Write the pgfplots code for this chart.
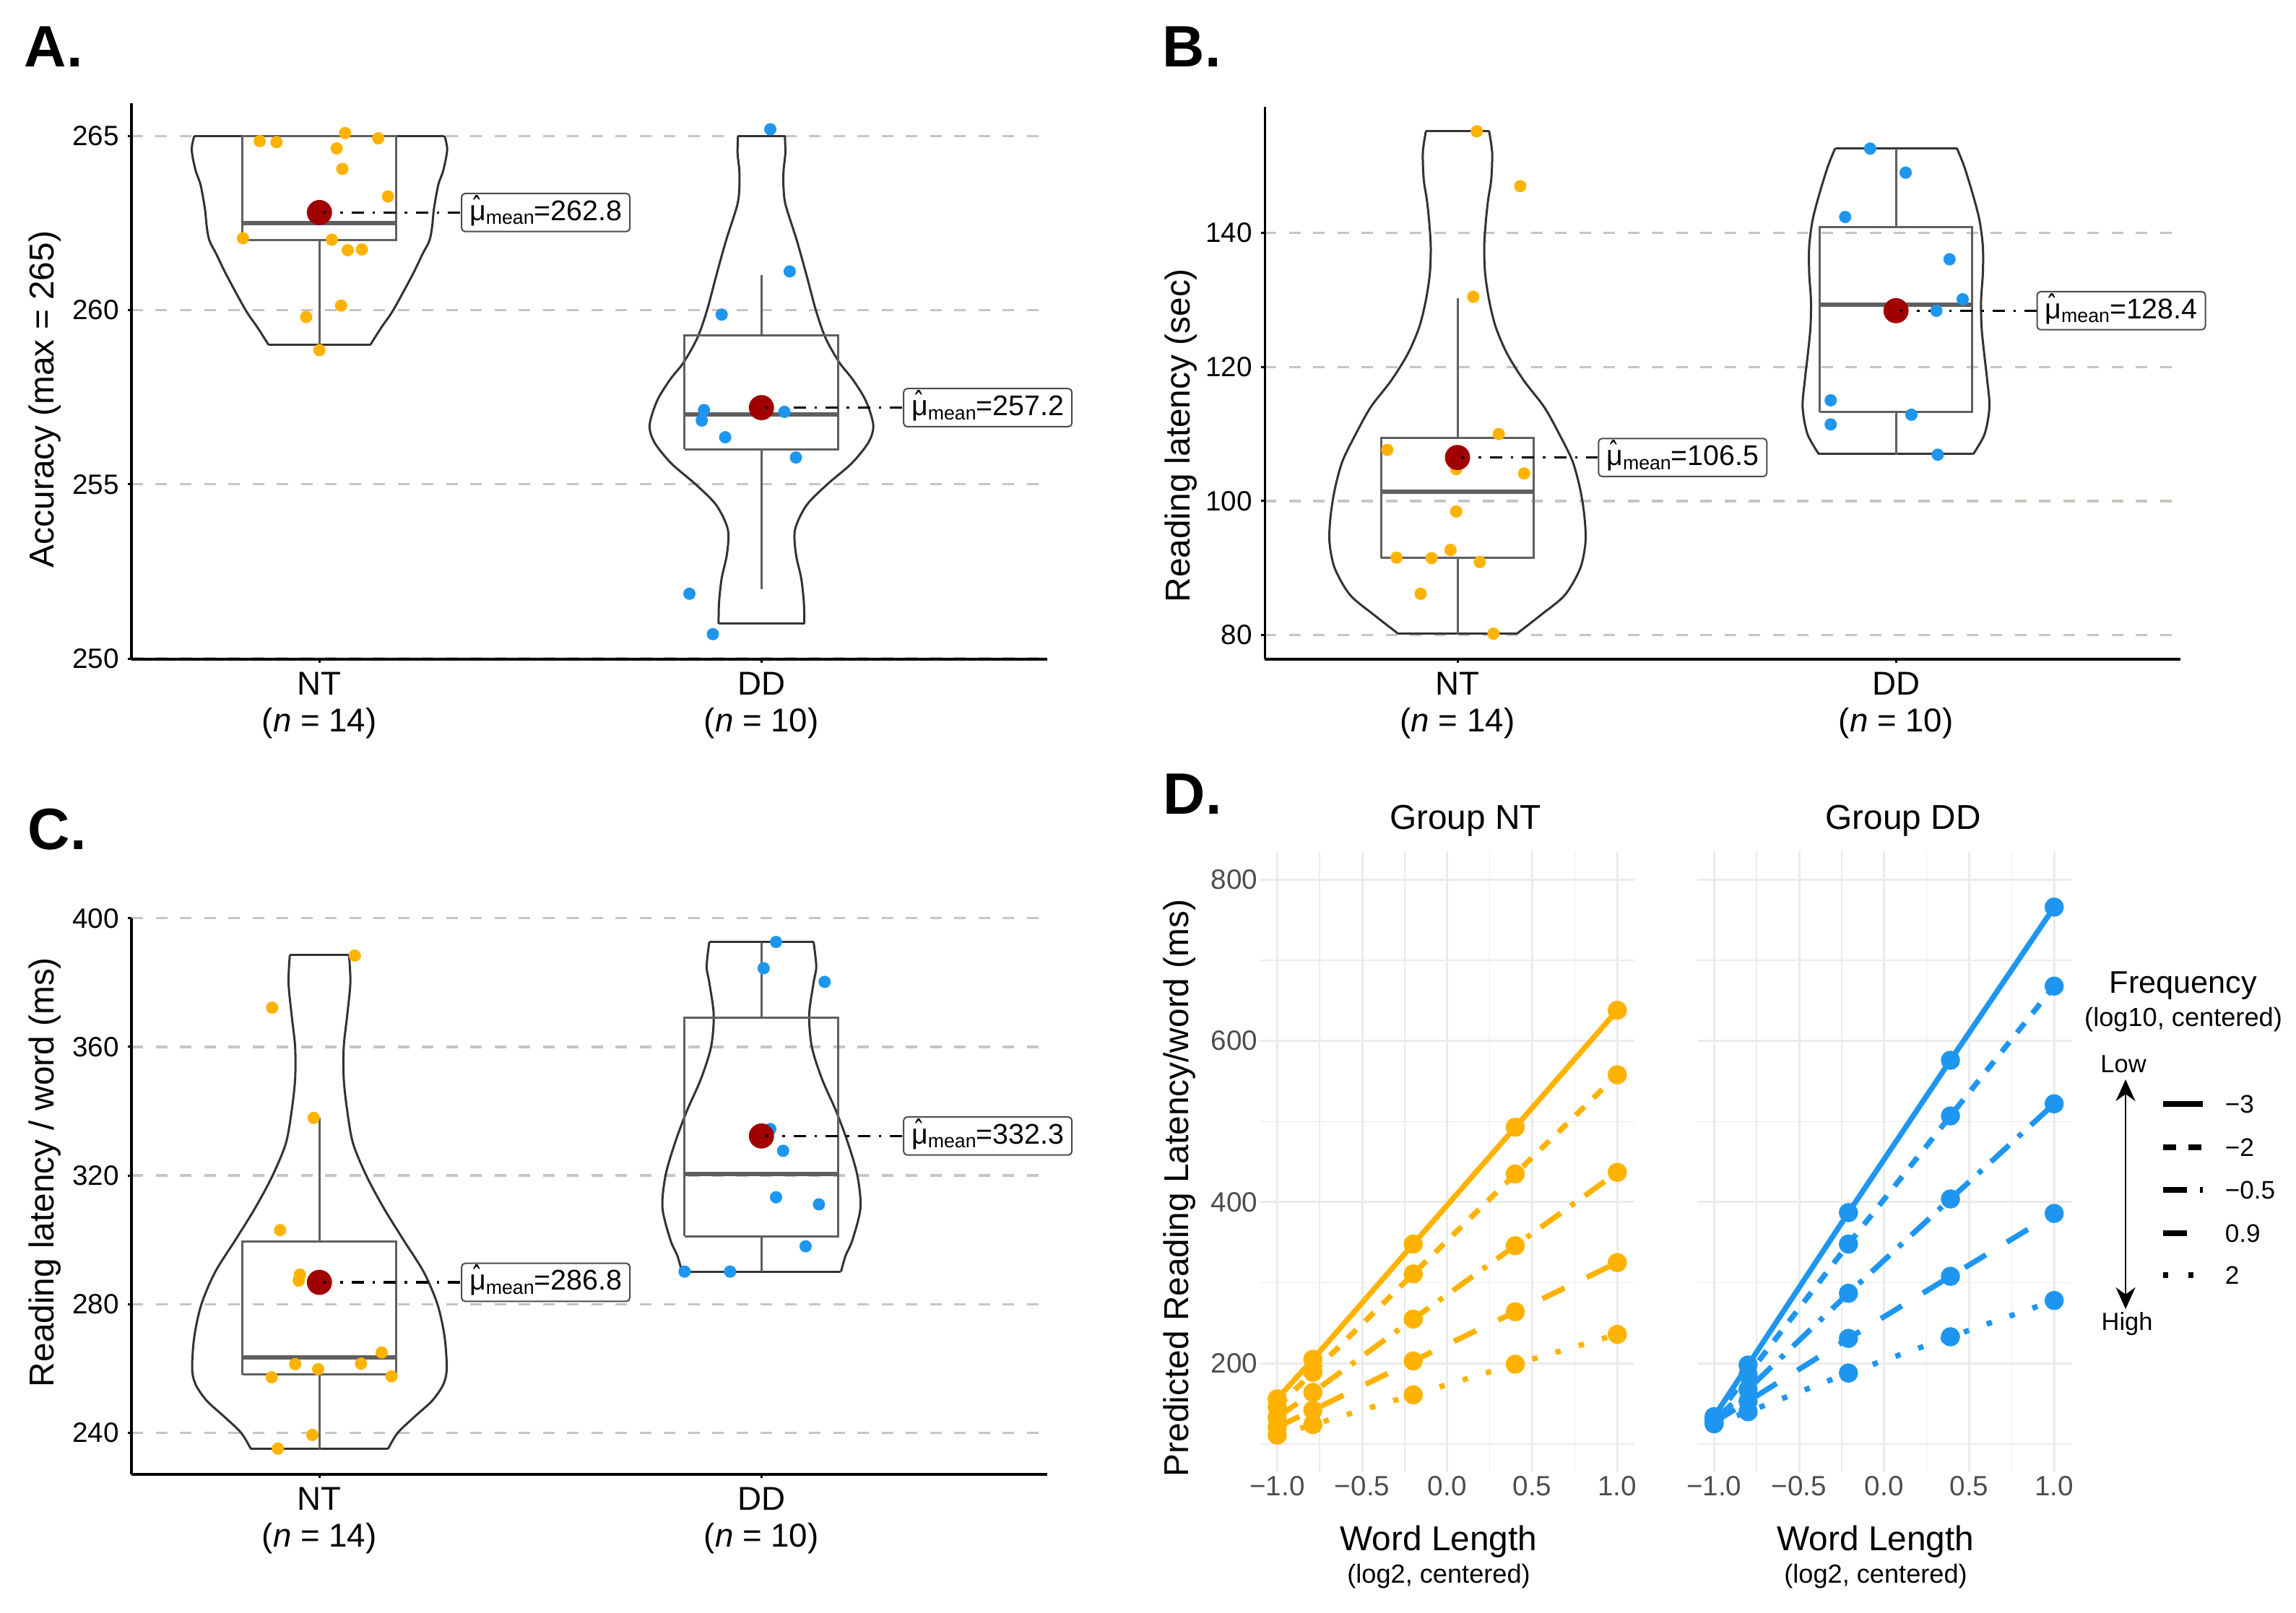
\documentclass[border=0pt]{standalone}
\usepackage{fontspec}
\setmainfont{Liberation Sans}
\usepackage{graphicx}
\usepackage{pgfplots}
\pgfplotsset{compat=1.18}
\usepackage{pgfplotstable}
\usetikzlibrary{arrows.meta}

\definecolor{ntorange}{HTML}{FFB300}
\definecolor{ddblue}{HTML}{1E96F0}
\definecolor{meanred}{HTML}{A00000}
\definecolor{hgrid}{HTML}{C9C4BE}
\definecolor{boxgray}{HTML}{5F5F5F}
\definecolor{violgray}{HTML}{333333}
\definecolor{dgrid}{HTML}{EBEBEB}
\definecolor{dtick}{HTML}{4D4D4D}

% violin outlines: y, left x, right x
\pgfplotstableread{
y xl xr
259.0 0.885 1.115
259.5 0.860 1.140
260.0 0.833 1.167
261.0 0.790 1.210
261.6 0.767 1.233
262.0 0.751 1.249
262.4 0.745 1.255
262.9 0.741 1.259
263.6 0.731 1.269
264.0 0.720 1.280
264.6 0.711 1.289
265.0 0.717 1.283
}\vAnt
\pgfplotstableread{
y xl xr
251.0 1.903 2.097
251.6 1.904 2.096
252.3 1.910 2.090
253.0 1.922 2.078
253.7 1.924 2.076
254.4 1.898 2.102
255.0 1.851 2.149
255.6 1.796 2.204
256.2 1.758 2.242
256.7 1.747 2.253
257.4 1.764 2.236
258.0 1.793 2.207
258.5 1.824 2.176
259.2 1.855 2.145
260.0 1.877 2.123
261.0 1.898 2.102
262.0 1.920 2.080
263.0 1.945 2.055
263.5 1.950 2.050
264.0 1.950 2.050
264.5 1.946 2.054
265.0 1.947 2.053
}\vAdd
\pgfplotstableread{
y xl xr
80.2 0.865 1.135
83 0.810 1.190
86 0.755 1.245
90 0.720 1.280
94 0.708 1.292
98 0.711 1.289
102 0.721 1.279
106 0.738 1.262
110 0.768 1.232
114 0.802 1.198
118 0.849 1.151
122 0.887 1.113
126 0.913 1.087
130 0.928 1.072
134 0.937 1.063
138 0.939 1.061
142 0.935 1.065
145 0.930 1.070
148 0.923 1.077
152 0.921 1.079
155.2 0.928 1.072
}\vBnt
\pgfplotstableread{
y xl xr
107 1.824 2.176
110 1.798 2.202
114 1.787 2.213
118 1.792 2.208
122 1.799 2.201
126 1.805 2.195
130 1.806 2.194
134 1.802 2.198
138 1.802 2.198
142 1.810 2.190
146 1.826 2.174
150 1.845 2.155
152.6 1.861 2.139
}\vBdd
\pgfplotstableread{
y xl xr
235 0.845 1.155
240 0.823 1.177
245 0.785 1.215
250 0.745 1.255
255 0.720 1.280
260 0.712 1.288
270 0.717 1.283
280 0.733 1.267
290 0.764 1.236
300 0.810 1.190
310 0.855 1.145
320 0.894 1.106
330 0.924 1.076
340 0.937 1.063
350 0.945 1.055
360 0.945 1.055
370 0.937 1.063
380 0.930 1.070
388.5 0.933 1.067
}\vCnt
\pgfplotstableread{
y xl xr
290.1 1.820 2.180
295 1.810 2.190
300 1.794 2.206
310 1.776 2.224
320 1.783 2.217
330 1.804 2.196
340 1.831 2.169
350 1.863 2.137
360 1.886 2.114
370 1.892 2.108
380 1.882 2.118
385 1.876 2.124
392.6 1.882 2.118
}\vCdd

% mu with a hat, subscript "mean"
\newcommand{\mulab}[1]{\ooalign{μ\cr\hidewidth\raisebox{0.05em}{\scalebox{0.75}[1.15]{ˆ}}\kern0.06em\hidewidth\cr}\raisebox{-0.57mm}{\fontsize{7.6}{8}\selectfont mean}=#1}

\pgfplotsset{
  panel/.style={
    scale only axis, width=126.8mm,
    axis lines*=left,
    axis line style={black, line width=0.33mm},
    tick align=outside, major tick length=0.5mm,
    tick style={black, line width=0.3mm},
    xtick={1,2},
    ymajorgrids,
    major grid style={hgrid, line width=0.33mm, dash pattern=on 1.6mm off 1.75mm},
    yticklabel style={font=\fontsize{11}{13}\selectfont},
    xticklabel style={font=\fontsize{13}{14.6}\selectfont, align=center, inner sep=0pt, yshift=-1.2mm},
    ylabel style={font=\fontsize{13.6}{16}\selectfont, anchor=center},
    /pgf/number format/assume math mode=true,
    clip=false,
  },
  vio/.style={violgray, line width=0.3mm, smooth, no marks},
  flat/.style={violgray, line width=0.3mm, no marks},
  bx/.style={boxgray, line width=0.3mm, no marks},
  med/.style={boxgray, line width=0.6mm, no marks},
  jit/.style={only marks, mark=*, mark size=0.78mm},
  mdot/.style={only marks, mark=*, meanred, mark size=1.67mm},
  cdot/.style={only marks, mark=*, black, mark size=0.15mm},
  conn/.style={black, line width=0.33mm, no marks, dash pattern=on 1.7mm off 1.2mm on 0.35mm off 1.2mm},
  dpanel/.style={
    scale only axis, width=51.8mm, height=85.97mm,
    xmin=-1.1, xmax=1.1, ymin=65, ymax=835,
    axis line style={draw=none},
    major tick length=0pt, minor tick length=0pt,
    xtick={-1,-0.5,0,0.5,1}, xticklabels={−1.0,−0.5,0.0,0.5,1.0},
    minor xtick={-0.75,-0.25,0.25,0.75},
    ytick={200,400,600,800}, minor ytick={100,300,500,700},
    xmajorgrids, ymajorgrids, xminorgrids, yminorgrids,
    major grid style={dgrid, line width=0.3mm},
    minor grid style={dgrid, line width=0.15mm},
    ticklabel style={dtick, font=\fontsize{11}{13}\selectfont},
    xticklabel style={inner ysep=0.5mm},
    yticklabel style={inner xsep=0.3mm},
    ylabel style={font=\fontsize{13.6}{16}\selectfont, anchor=center},
    /pgf/number format/assume math mode=true,
  },
  fq/.style={line width=0.75mm, mark=*, mark size=0.95mm, mark options={solid}},
  f1/.style={fq, solid},
  f2/.style={fq, dash pattern=on 1.7mm off 1.7mm},
  f3/.style={fq, dash pattern=on 3.4mm off 1.7mm on 0.7mm off 1.7mm},
  f4/.style={fq, dash pattern=on 3.4mm off 3.4mm},
  f5/.style={fq, dash pattern=on 0.75mm off 2.6mm},
}
\tikzset{mlab/.style={draw=black!70, line width=0.2mm, rounded corners=0.5mm, fill=white,
  inner xsep=1.1mm, inner ysep=0.8mm, minimum height=5.27mm, anchor=west,
  font=\fontsize{11.2}{13}\selectfont}}

\begin{document}
\begin{tikzpicture}
\useasboundingbox (0,0) rectangle (317.9mm,223.3mm);

% ---------------- A ----------------
\begin{axis}[panel, at={(18.2mm,132.0mm)}, anchor=south west, height=76.97mm,
  xmin=0.5747, xmax=2.6466, ymin=249.98, ymax=265.93,
  ytick={250,255,260,265},
  xticklabels={{NT\\(\textit{n} = 14)},{DD\\(\textit{n} = 10)}},
  ylabel={Accuracy (max = 265)},
  ylabel style={at={(axis description cs:-0.0946,0.4677)}}]
\addplot[vio] table[x=xr,y=y] {\vAnt};
\addplot[vio] table[x=xl,y=y] {\vAnt};
\addplot[flat] coordinates {(0.885,259.0) (1.115,259.0)};
\addplot[flat] coordinates {(0.717,265.0) (1.283,265.0)};
\addplot[vio] table[x=xr,y=y] {\vAdd};
\addplot[vio] table[x=xl,y=y] {\vAdd};
\addplot[flat] coordinates {(1.903,251.0) (2.097,251.0)};
\addplot[flat] coordinates {(1.947,265.0) (2.053,265.0)};
% boxes: quartiles, median, whiskers
\addplot[bx] coordinates {(0.826,262.0) (1.174,262.0) (1.174,265.0) (0.826,265.0) (0.826,262.0)};
\addplot[med] coordinates {(0.826,262.5) (1.174,262.5)};
\addplot[bx] coordinates {(1,259.0) (1,262.0)};
\addplot[bx] coordinates {(1.826,256.0) (2.174,256.0) (2.174,259.27) (1.826,259.27) (1.826,256.0)};
\addplot[med] coordinates {(1.826,257.0) (2.174,257.0)};
\addplot[bx] coordinates {(2,252.0) (2,256.0)};
\addplot[bx] coordinates {(2,259.27) (2,261.0)};
\addplot[jit, ntorange] coordinates {(0.865,264.85) (0.903,264.82) (1.058,265.08) (1.133,264.93)
  (1.039,264.64) (1.052,264.05) (1.155,263.26) (0.827,262.06) (1.028,262.02) (1.064,261.72)
  (1.096,261.74) (1.049,260.13) (0.970,259.80) (1.000,258.85)};
\addplot[jit, ddblue] coordinates {(2.020,265.19) (2.064,261.11) (1.910,259.87) (1.870,257.13)
  (1.865,256.83) (2.052,257.08) (1.918,256.35) (2.078,255.77) (1.837,251.86) (1.890,250.70)};
\addplot[mdot] coordinates {(1,262.8) (2,257.2)};
\addplot[conn] coordinates {(1,262.8) (1.32,262.8)};
\addplot[conn] coordinates {(2,257.2) (2.32,257.2)};
\addplot[cdot] coordinates {(1.012,262.8) (2.012,257.2)};
\node[mlab] at (axis cs:1.32,262.8) {\mulab{262.8}};
\node[mlab] at (axis cs:2.32,257.2) {\mulab{257.2}};
\end{axis}

% ---------------- B ----------------
\begin{axis}[panel, at={(175.12mm,132.0mm)}, anchor=south west, width=126.78mm, height=76.5mm,
  xmin=0.5606, xmax=2.6486, ymin=76.41, ymax=158.81,
  ytick={80,100,120,140},
  xticklabels={{NT\\(\textit{n} = 14)},{DD\\(\textit{n} = 10)}},
  ylabel={Reading latency (sec)},
  ylabel style={at={(axis description cs:-0.0913,0.405)}}]
\addplot[vio] table[x=xr,y=y] {\vBnt};
\addplot[vio] table[x=xl,y=y] {\vBnt};
\addplot[flat] coordinates {(0.865,80.2) (1.135,80.2)};
\addplot[flat] coordinates {(0.928,155.2) (1.072,155.2)};
\addplot[vio] table[x=xr,y=y] {\vBdd};
\addplot[vio] table[x=xl,y=y] {\vBdd};
\addplot[flat] coordinates {(1.824,107) (2.176,107)};
\addplot[flat] coordinates {(1.861,152.6) (2.139,152.6)};
\addplot[bx] coordinates {(0.826,91.5) (1.174,91.5) (1.174,109.4) (0.826,109.4) (0.826,91.5)};
\addplot[med] coordinates {(0.826,101.4) (1.174,101.4)};
\addplot[bx] coordinates {(1,80.1) (1,91.5)};
\addplot[bx] coordinates {(1,109.4) (1,130.3)};
\addplot[bx] coordinates {(1.826,113.3) (2.174,113.3) (2.174,140.9) (1.826,140.9) (1.826,113.3)};
\addplot[med] coordinates {(1.826,129.3) (2.174,129.3)};
\addplot[bx] coordinates {(2,106.9) (2,113.3)};
\addplot[bx] coordinates {(2,140.9) (2,152.6)};
\addplot[jit, ntorange] coordinates {(1.044,155.16) (1.143,146.98) (1.036,130.47) (1.094,110.0)
  (0.840,107.64) (0.997,104.77) (1.152,104.12) (0.997,98.45) (0.984,92.71) (0.861,91.56)
  (0.941,91.49) (1.051,90.91) (0.916,86.17) (1.082,80.22)};
\addplot[jit, ddblue] coordinates {(1.941,152.58) (2.022,148.99) (1.884,142.38) (2.122,136.07)
  (2.152,130.11) (2.092,128.38) (1.851,115.03) (1.851,111.44) (2.035,112.88) (2.095,106.92)};
\addplot[mdot] coordinates {(1,106.5) (2,128.4)};
\addplot[conn] coordinates {(1,106.5) (1.32,106.5)};
\addplot[conn] coordinates {(2,128.4) (2.32,128.4)};
\addplot[cdot] coordinates {(1.012,106.5) (2.012,128.4)};
\node[mlab] at (axis cs:1.32,106.5) {\mulab{106.5}};
\node[mlab] at (axis cs:2.32,128.4) {\mulab{128.4}};
\end{axis}

% ---------------- C ----------------
\begin{axis}[panel, at={(18.2mm,19.1mm)}, anchor=south west, height=77.03mm,
  xmin=0.5747, xmax=2.6466, ymin=227.1, ymax=400,
  ytick={240,280,320,360,400},
  xticklabels={{NT\\(\textit{n} = 14)},{DD\\(\textit{n} = 10)}},
  ylabel={Reading latency / word (ms)},
  ylabel style={at={(axis description cs:-0.0943,0.5433)}}]
\addplot[vio] table[x=xr,y=y] {\vCnt};
\addplot[vio] table[x=xl,y=y] {\vCnt};
\addplot[flat] coordinates {(0.845,235) (1.155,235)};
\addplot[flat] coordinates {(0.933,388.5) (1.067,388.5)};
\addplot[vio] table[x=xr,y=y] {\vCdd};
\addplot[vio] table[x=xl,y=y] {\vCdd};
\addplot[flat] coordinates {(1.820,290.1) (2.180,290.1)};
\addplot[flat] coordinates {(1.882,392.6) (2.118,392.6)};
\addplot[bx] coordinates {(0.826,258.1) (1.174,258.1) (1.174,299.6) (0.826,299.6) (0.826,258.1)};
\addplot[med] coordinates {(0.826,263.4) (1.174,263.4)};
\addplot[bx] coordinates {(1,235.0) (1,258.1)};
\addplot[bx] coordinates {(1,299.6) (1,337.9)};
\addplot[bx] coordinates {(1.826,301.1) (2.174,301.1) (2.174,369.0) (1.826,369.0) (1.826,301.1)};
\addplot[med] coordinates {(1.826,320.5) (2.174,320.5)};
\addplot[bx] coordinates {(2,290.1) (2,301.1)};
\addplot[bx] coordinates {(2,369.0) (2,392.5)};
\addplot[jit, ntorange] coordinates {(1.080,388.37) (0.893,372.18) (0.987,337.92) (0.911,303.03)
  (0.956,289.2) (0.953,287.3) (1.141,264.99) (0.945,261.37) (1.094,261.53) (0.997,259.80)
  (0.892,257.29) (1.163,257.6) (0.984,239.37) (0.906,235.13)};
\addplot[jit, ddblue] coordinates {(2.033,392.61) (2.005,384.44) (2.143,380.2) (2.020,334.46)
  (2.049,327.7) (2.033,313.24) (2.130,311.04) (2.100,298.0) (1.826,290.14) (1.929,290.14)};
\addplot[mdot] coordinates {(1,286.8) (2,332.3)};
\addplot[conn] coordinates {(1,286.8) (1.32,286.8)};
\addplot[conn] coordinates {(2,332.3) (2.32,332.3)};
\addplot[cdot] coordinates {(1.012,286.8) (2.012,332.3)};
\node[mlab] at (axis cs:1.32,286.8) {\mulab{286.8}};
\node[mlab] at (axis cs:2.32,332.3) {\mulab{332.3}};
\end{axis}

% ---------------- D, group NT ----------------
\begin{axis}[dpanel, at={(174.48mm,19.4mm)}, anchor=south west,
  ylabel={Predicted Reading Latency/word (ms)},
  ylabel style={at={(axis description cs:-0.216,0.458)}}]
\addplot[f1, ntorange] coordinates {(-1,156) (-0.79,205) (-0.2,348) (0.4,493) (1,638)};
\addplot[f2, ntorange] coordinates {(-1,146) (-0.79,189) (-0.2,311) (0.4,435) (1,558)};
\addplot[f3, ntorange] coordinates {(-1,133) (-0.79,164) (-0.2,255) (0.4,346) (1,437)};
\addplot[f4, ntorange] coordinates {(-1,121) (-0.79,142) (-0.2,203) (0.4,264) (1,325)};
\addplot[f5, ntorange] coordinates {(-1,111) (-0.79,124) (-0.2,161) (0.4,199) (1,236)};
\end{axis}

% ---------------- D, group DD ----------------
\begin{axis}[dpanel, at={(234.97mm,19.4mm)}, anchor=south west, yticklabels={}]
\addplot[f1, ddblue] coordinates {(-1,134) (-0.8,198) (-0.21,387) (0.39,576) (1,766)};
\addplot[f2, ddblue] coordinates {(-1,131) (-0.8,186) (-0.21,348) (0.39,507) (1,668)};
\addplot[f3, ddblue] coordinates {(-1,129) (-0.8,168) (-0.21,287) (0.39,404) (1,522)};
\addplot[f4, ddblue] coordinates {(-1,127) (-0.8,153) (-0.21,231) (0.39,308) (1,386)};
\addplot[f5, ddblue] coordinates {(-1,125) (-0.8,140) (-0.21,188) (0.39,233) (1,278)};
\end{axis}

% ---------------- labels and legend, in pixel units of the reference ----------------
\begin{scope}[x=0.1mm, y=-0.1mm, shift={(0mm,223.3mm)}]
\node[anchor=base west, inner sep=0pt, font=\fontsize{23}{26}\selectfont\bfseries] at (33,92.7) {A.};
\node[anchor=base west, inner sep=0pt, font=\fontsize{23}{26}\selectfont\bfseries] at (1609,93) {B.};
\node[anchor=base west, inner sep=0pt, font=\fontsize{23}{26}\selectfont\bfseries] at (38,1176) {C.};
\node[anchor=base west, inner sep=0pt, font=\fontsize{23}{26}\selectfont\bfseries] at (1610,1127) {D.};

\node[font=\fontsize{13.6}{16}\selectfont] at (2029,1137) {Group NT};
\node[font=\fontsize{13.6}{16}\selectfont] at (2635,1137) {Group DD};
\node[font=\fontsize{13.6}{16}\selectfont] at (1992,2135) {Word Length};
\node[font=\fontsize{10.3}{12}\selectfont] at (1992,2183) {(log2, centered)};
\node[font=\fontsize{13.6}{16}\selectfont] at (2597,2135) {Word Length};
\node[font=\fontsize{10.3}{12}\selectfont] at (2597,2183) {(log2, centered)};

% legend of panel D
\node[font=\fontsize{12.3}{14}\selectfont] at (3023,1365) {Frequency};
\node[font=\fontsize{10.3}{12}\selectfont] at (3023,1412) {(log10, centered)};
\node[font=\fontsize{9.8}{11}\selectfont] at (2940,1474) {Low};
\node[font=\fontsize{9.8}{11}\selectfont] at (2945,1834) {High};
\draw[{Stealth[length=3mm,width=2.7mm]}-{Stealth[length=3mm,width=2.7mm]}, line width=0.27mm]
  (2943,1495) -- (2943,1813);
\draw[line width=0.77mm] (2995,1529) -- (3050,1529);
\draw[line width=0.77mm, dash pattern=on 1.8mm off 1.7mm] (2995,1589) -- (3050,1589);
\draw[line width=0.77mm, dash pattern=on 3.3mm off 1.8mm on 0.4mm off 1.8mm] (2995,1648) -- (3050,1648);
\draw[line width=0.77mm, dash pattern=on 3.3mm off 3.3mm] (2995,1708) -- (3050,1708);
\draw[line width=0.77mm, dash pattern=on 0.7mm off 2.8mm] (2995,1766) -- (3050,1766);
\foreach \yy/\tt in {1529/−3, 1589/−2, 1648/−0.5, 1708/0.9, 1766/2}
  \node[anchor=west, inner sep=0pt, font=\fontsize{10}{12}\selectfont] at (3080,\yy) {\tt};
\end{scope}
\end{tikzpicture}
\end{document}
